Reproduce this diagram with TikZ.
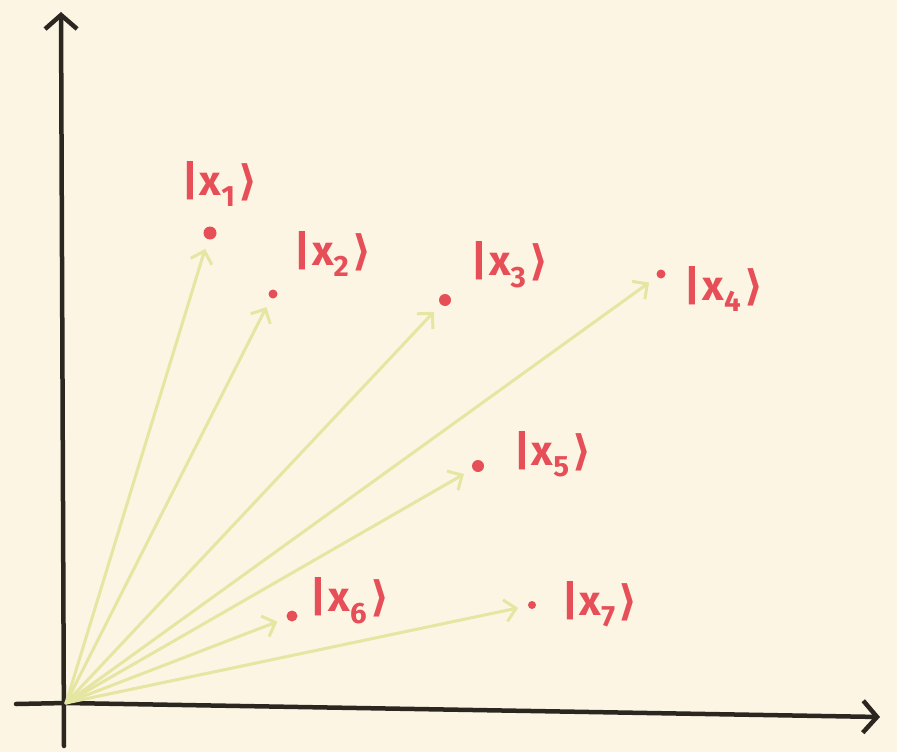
\documentclass[tikz,border=0pt]{standalone}
\usepackage{fontspec}
\setsansfont{Fira Sans}
\newfontfamily\dvfont{DejaVu Sans}
\usetikzlibrary{arrows.meta}
\definecolor{bg}{HTML}{FCF5E3}
\definecolor{ink}{HTML}{2B2720}
\definecolor{vec}{HTML}{E4E6A2}
\definecolor{pt}{HTML}{E64E58}
\newcommand{\ket}[1]{|\kern2pt x\textsubscript{#1}\kern3pt{\dvfont\bfseries ⟩}}
\begin{document}
\begin{tikzpicture}[x=1pt,y=-1pt,
  axis/.style={draw=ink,line width=4.5pt,line cap=round,-{Straight Barb[length=14pt,width=32pt,line width=4.5pt]}},
  vector/.style={draw=vec,line width=3pt,line cap=round,shorten >=10pt,-{Straight Barb[length=11pt,width=22pt,line width=3pt]}},
  dotpt/.style={circle,fill=pt,inner sep=0pt},
  lab/.style={text=pt,font=\sffamily\bfseries\fontsize{42}{46}\selectfont,inner sep=0pt}]
\fill[bg] (0,0) rectangle (897,752);
\useasboundingbox (0,0) rectangle (897,752);
\coordinate (o) at (66,703);
\coordinate (ybot) at (64,746);
\coordinate (ytop) at (61,12);
\coordinate (xleft) at (16,704);
\coordinate (xright) at (880,717);
\draw[axis] (ybot) -- (ytop);
\draw[axis] (xleft) -- (o) -- (xright);
\node[dotpt,minimum size=13pt] (p1) at (210,233) {};
\node[dotpt,minimum size=9pt] (p2) at (273,294) {};
\node[dotpt,minimum size=12pt] (p3) at (445,300) {};
\node[dotpt,minimum size=9pt] (p4) at (661,274) {};
\node[dotpt,minimum size=12pt] (p5) at (478,466) {};
\node[dotpt,minimum size=11pt] (p6) at (292,616) {};
\node[dotpt,minimum size=8pt] (p7) at (532,605) {};
\foreach \i in {1,...,7} {\draw[vector] (o) -- (p\i);}
\node[lab] (l1) at (220,184) {\ket{1}};
\node[lab] (l2) at (333,254) {\ket{2}};
\node[lab] (l3) at (510,265) {\ket{3}};
\node[lab] (l4) at (724,289) {\ket{4}};
\node[lab] (l5) at (553,454) {\ket{5}};
\node[lab] (l6) at (350,601) {\ket{6}};
\node[lab] (l7) at (600,604) {\ket{7}};
\end{tikzpicture}
\end{document}
